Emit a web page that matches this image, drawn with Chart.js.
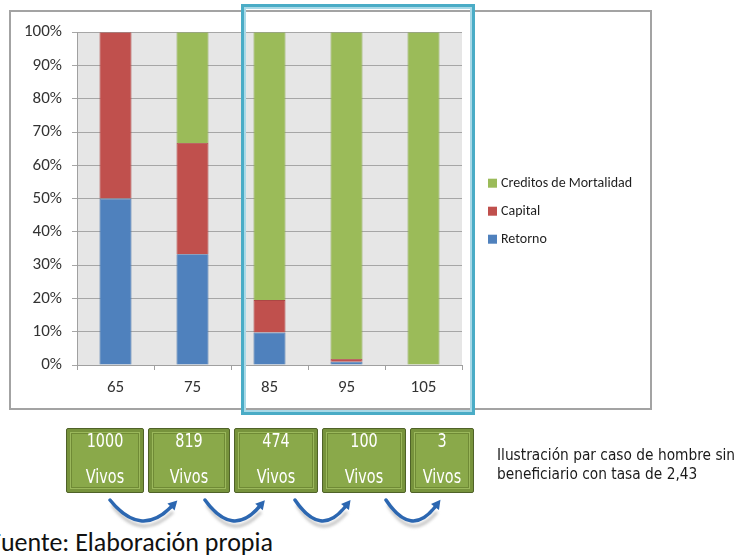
<!DOCTYPE html>
<html>
<head>
<meta charset="utf-8">
<script src="https://cdn.jsdelivr.net/npm/chart.js@4/dist/chart.umd.min.js"></script>
<style>
  html, body { margin: 0; padding: 0; background: #ffffff; }
  body { width: 738px; height: 560px; position: relative; overflow: hidden; font-family: Carlito, Lato, "Open Sans", sans-serif; }
  #frame { position: absolute; left: 9px; top: 10px; width: 639px; height: 396px; border: 2px solid #a3a3a3; background: #fff; }
  #frame canvas { position: absolute; left: 0; top: 0; }
  #focus { position: absolute; left: 241px; top: 4px; width: 228px; height: 405px; border: 3px solid #4aacc6; box-shadow: inset 0 0 0 2px #a9d9e7; pointer-events: none; }
  .box { position: absolute; top: 428px; height: 65px; background: #77933c; border: 1px solid #4f6228; border-radius: 2px; box-sizing: border-box; }
  .box .inner { position: absolute; left: 4px; right: 4px; top: 4px; bottom: 4px; background: #8aa94a; border: 1px solid #6f8a35; box-shadow: 0 0 0 1px #9bb85c; }
  .box .txt { position: absolute; left: -10px; right: -10px; top: -7px; text-align: center; color: #fff;
    font-family: "Liberation Sans Narrow", "DejaVu Sans Condensed", sans-serif; font-size: 20px; line-height: 36px;
    transform: scaleX(0.8); }
  #note { position: absolute; left: 497px; top: 446px; font-family: "Liberation Sans Narrow", "DejaVu Sans Condensed", sans-serif;
    font-size: 15px; line-height: 19px; color: #1a1a1a; transform: scaleX(1.02); transform-origin: left top; white-space: nowrap; }
  #source { position: absolute; left: -11px; top: 526px; font-size: 26px; color: #111; white-space: nowrap; }
  svg#arrows { position: absolute; left: 0; top: 490px; }
</style>
</head>
<body>
<div id="frame"><canvas id="c" width="639" height="396"></canvas></div>
<div id="focus"></div>
<div id="boxes"></div>
<div id="note">Ilustración par caso de hombre sin<br>beneficiario con tasa de 2,43</div>
<svg id="arrows" width="520" height="45"></svg>
<div id="source">Fuente: Elaboración propia</div>
<script>
// Ages on the x axis
const ages = ['65', '75', '85', '95', '105'];
// Share of each component in the payment (percent)
const retorno   = [50, 33.3, 9.8, 1.0, 0];
const capital   = [50, 33.4, 9.7, 0.8, 0];
const creditos  = [0, 33.3, 80.5, 98.2, 100];
const seriesNames = ['Retorno', 'Capital', 'Creditos de Mortalidad'];
const seriesColors = ['#4f81bd', '#c0504d', '#9bbb59'];
const seriesBorders = ['#4672a8', '#ab4744', '#8aa84f'];
const yTicks = [0, 10, 20, 30, 40, 50, 60, 70, 80, 90, 100];

// Survivors at each age
const vivos = ['1000', '819', '474', '100', '3'];
const boxLeft = [66, 148, 234, 322, 410];
const boxWidth = [78, 82, 84, 84, 64];

const fontFam = 'Carlito, Lato, "Open Sans", sans-serif';

// Legend drawn to the right of the plot, top entry first
const sideLegend = {
  id: 'sideLegend',
  afterDraw(chart) {
    const ctx = chart.ctx;
    const area = chart.chartArea;
    const ds = chart.data.datasets;
    ctx.save();
    ctx.font = '14px ' + fontFam;
    ctx.textBaseline = 'middle';
    ctx.textAlign = 'left';
    for (let k = 0; k < ds.length; k++) {
      const i = ds.length - 1 - k;
      const y = area.top + 151 + k * 28;
      const x = area.right + 26;
      ctx.fillStyle = ds[i].backgroundColor;
      ctx.fillRect(x, y - 4.5, 9, 9);
      ctx.fillStyle = '#1f1f1f';
      ctx.fillText(ds[i].label, x + 13, y);
    }
    ctx.restore();
  }
};

// Grey plot background
const plotBg = {
  id: 'plotBg',
  beforeDraw(chart) {
    const a = chart.chartArea;
    chart.ctx.save();
    chart.ctx.fillStyle = '#e6e6e6';
    chart.ctx.fillRect(a.left, a.top, a.right - a.left, a.bottom - a.top);
    chart.ctx.restore();
  }
};

const values = [retorno, capital, creditos];
new Chart(document.getElementById('c'), {
  type: 'bar',
  data: {
    labels: ages,
    datasets: seriesNames.map((n, i) => ({
      label: n,
      data: values[i],
      backgroundColor: seriesColors[i],
      borderColor: seriesBorders[i],
      borderWidth: 0.8,
      categoryPercentage: 1,
      barPercentage: 0.416
    }))
  },
  options: {
    responsive: false,
    animation: false,
    layout: { padding: { top: 20, right: 188, left: 0, bottom: 0 } },
    plugins: { legend: { display: false }, tooltip: { enabled: false } },
    scales: {
      x: {
        stacked: true,
        afterFit(s) { s.height = 43; },
        grid: { offset: true, drawOnChartArea: false, drawTicks: true, tickLength: 5, color: '#a0a0a0' },
        border: { color: '#a0a0a0', width: 1 },
        ticks: { color: '#333', padding: 8, font: { family: fontFam, size: 17 } }
      },
      y: {
        stacked: true,
        min: 0, max: 100,
        afterFit(s) { s.width = 66; },
        afterBuildTicks(s) { s.ticks = yTicks.map(v => ({ value: v })); },
        grid: { color: '#a6a6a6', tickLength: 5, lineWidth: 1 },
        border: { color: '#a0a0a0', width: 1 },
        ticks: { color: '#333', padding: 10, font: { family: fontFam, size: 17 }, callback: v => v + '%' }
      }
    }
  },
  plugins: [plotBg, sideLegend]
});

// Survivor boxes
const boxes = document.getElementById('boxes');
vivos.forEach((v, i) => {
  const d = document.createElement('div');
  d.className = 'box';
  d.style.left = boxLeft[i] + 'px';
  d.style.width = boxWidth[i] + 'px';
  d.innerHTML = '<div class="inner"></div><div class="txt">' + v + '<br>Vivos</div>';
  boxes.appendChild(d);
});

// Curved arrows between consecutive boxes
const svg = document.getElementById('arrows');
const NS = 'http://www.w3.org/2000/svg';
const defs = document.createElementNS(NS, 'defs');
defs.innerHTML =
  '<filter id="sh" x="-20%" y="-20%" width="140%" height="160%"><feGaussianBlur stdDeviation="1.6"/></filter>';
svg.appendChild(defs);
const arrowSpans = [[110, 178], [205, 266], [295, 352], [386, 442]];
arrowSpans.forEach(([x0, x1]) => {
  const w = x1 - x0;
  const sx = x0, sy = 10;
  const ex = x1 - 7, ey = 17;
  const cx = x0 + w * 0.45, cy = 48;
  const d = 'M' + sx + ',' + sy + ' Q' + cx + ',' + cy + ' ' + ex + ',' + ey;
  const shadow = document.createElementNS(NS, 'path');
  shadow.setAttribute('d', 'M' + (sx + 2) + ',' + (sy + 5) + ' Q' + cx + ',' + (cy + 5) + ' ' + (ex + 2) + ',' + (ey + 5));
  shadow.setAttribute('stroke', '#9a9a9a'); shadow.setAttribute('stroke-width', '3');
  shadow.setAttribute('fill', 'none'); shadow.setAttribute('opacity', '0.6'); shadow.setAttribute('filter', 'url(#sh)');
  svg.appendChild(shadow);
  const p = document.createElementNS(NS, 'path');
  p.setAttribute('d', d);
  p.setAttribute('stroke', '#2c67b1'); p.setAttribute('stroke-width', '3.5');
  p.setAttribute('fill', 'none'); p.setAttribute('stroke-linecap', 'round');
  svg.appendChild(p);
  // arrow head along the end tangent
  const tx = ex - cx, ty = ey - cy, L = Math.hypot(tx, ty);
  const ux = tx / L, uy = ty / L, nx = -uy, ny = ux;
  const tipX = ex + ux * 9, tipY = ey + uy * 9;
  const head = document.createElementNS(NS, 'path');
  head.setAttribute('d', 'M' + tipX + ',' + tipY + ' L' + (ex + nx * 5) + ',' + (ey + ny * 5) + ' L' + (ex - nx * 5) + ',' + (ey - ny * 5) + ' Z');
  head.setAttribute('fill', '#2c67b1');
  svg.appendChild(head);
});
</script>
</body>
</html>
